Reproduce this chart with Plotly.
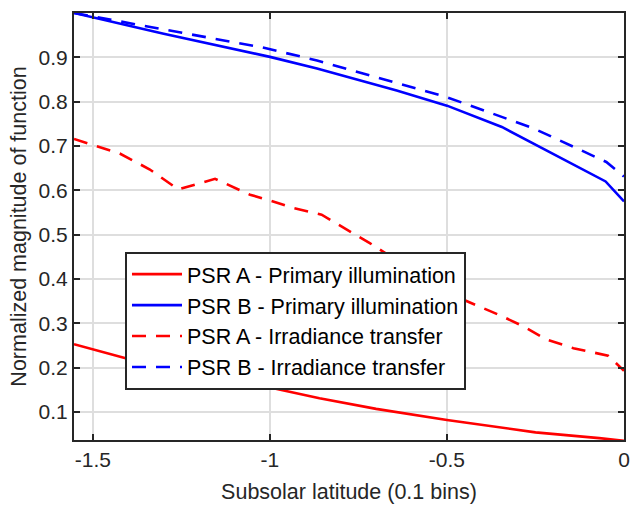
import plotly.graph_objects as go

# ---- data (x in radians of subsolar latitude) ----
psr_a_primary_x = [-1.5533, -1.41, -1.17, -1.0, -0.86, -0.7, -0.5, -0.25, -0.07, 0.0]
psr_a_primary_y = [0.253, 0.222, 0.180, 0.155, 0.131, 0.107, 0.082, 0.054, 0.041, 0.035]

psr_b_primary_x = [-1.5533, -1.3, -1.0, -0.867, -0.642, -0.5, -0.345, -0.256, -0.052, 0.0]
psr_b_primary_y = [1.0, 0.953, 0.901, 0.875, 0.825, 0.791, 0.743, 0.706, 0.62, 0.575]

psr_a_irr_x = [-1.5533, -1.424, -1.339, -1.259, -1.155, -1.056, -1.0, -0.934, -0.854,
               -0.783, -0.718, -0.656, -0.55, -0.453, -0.35, -0.284, -0.218, -0.143,
               -0.077, -0.045, 0.0]
psr_a_irr_y = [0.716, 0.683, 0.647, 0.602, 0.626, 0.59, 0.577, 0.56, 0.545,
               0.511, 0.481, 0.449, 0.40, 0.353, 0.318, 0.293, 0.263, 0.244,
               0.232, 0.227, 0.193]

psr_b_irr_x = [-1.5533, -1.31, -1.02, -0.867, -0.633, -0.5, -0.256, -0.19, -0.05, 0.0]
psr_b_irr_y = [1.0, 0.964, 0.922, 0.893, 0.84, 0.81, 0.74, 0.716, 0.664, 0.631]

series_names = ["PSR A - Primary illumination", "PSR B - Primary illumination",
                "PSR A - Irradiance transfer", "PSR B - Irradiance transfer"]

x_tickvals = [-1.5, -1.0, -0.5, 0.0]
x_ticktext = ["-1.5", "-1", "-0.5", "0"]
y_tickvals = [0.1, 0.2, 0.3, 0.4, 0.5, 0.6, 0.7, 0.8, 0.9]
y_ticktext = ["0.1", "0.2", "0.3", "0.4", "0.5", "0.6", "0.7", "0.8", "0.9"]

FONT = "Liberation Sans, Arial, sans-serif"
TXT = "#262626"
DASH = "14px,10px"

fig = go.Figure()
fig.add_trace(go.Scatter(x=psr_a_primary_x, y=psr_a_primary_y, mode="lines",
                         name=series_names[0], line=dict(color="#ff0000", width=2.6)))
fig.add_trace(go.Scatter(x=psr_b_primary_x, y=psr_b_primary_y, mode="lines",
                         name=series_names[1], line=dict(color="#0000ff", width=2.6)))
fig.add_trace(go.Scatter(x=psr_a_irr_x, y=psr_a_irr_y, mode="lines",
                         name=series_names[2], line=dict(color="#ff0000", width=2.6, dash=DASH)))
fig.add_trace(go.Scatter(x=psr_b_irr_x, y=psr_b_irr_y, mode="lines",
                         name=series_names[3], line=dict(color="#0000ff", width=2.6, dash=DASH)))

axis_common = dict(showline=True, linecolor=TXT, linewidth=2, mirror="allticks",
                   ticks="inside", ticklen=6, tickwidth=2, tickcolor=TXT,
                   showgrid=True, gridcolor="#dedede", gridwidth=1.5,
                   zeroline=False, automargin=False,
                   tickfont=dict(family=FONT, size=21, color=TXT))

fig.update_xaxes(range=[-1.5533, 0.0], tickmode="array", tickvals=x_tickvals,
                 ticktext=x_ticktext,
                 title=dict(text="Subsolar latitude (0.1 bins)", standoff=14,
                            font=dict(family=FONT, size=21.5, color=TXT)),
                 **axis_common)
fig.update_yaxes(range=[0.0368, 1.0], tickmode="array", tickvals=y_tickvals,
                 ticktext=y_ticktext,
                 title=dict(text="Normalized magnitude of function", standoff=6,
                            font=dict(family=FONT, size=21.5, color=TXT)),
                 **axis_common)

fig.update_layout(
    width=630, height=505,
    margin=dict(l=74, r=6, t=13, b=65),
    paper_bgcolor="white", plot_bgcolor="white",
    font=dict(family=FONT, color=TXT),
    legend=dict(x=0.0927, y=0.441, xanchor="left", yanchor="top",
                bgcolor="white", bordercolor=TXT, borderwidth=2,
                font=dict(family=FONT, size=21.5, color="#000000"),
                itemwidth=50, tracegroupgap=0),
    showlegend=True,
)

fig.write_html("out.html")
